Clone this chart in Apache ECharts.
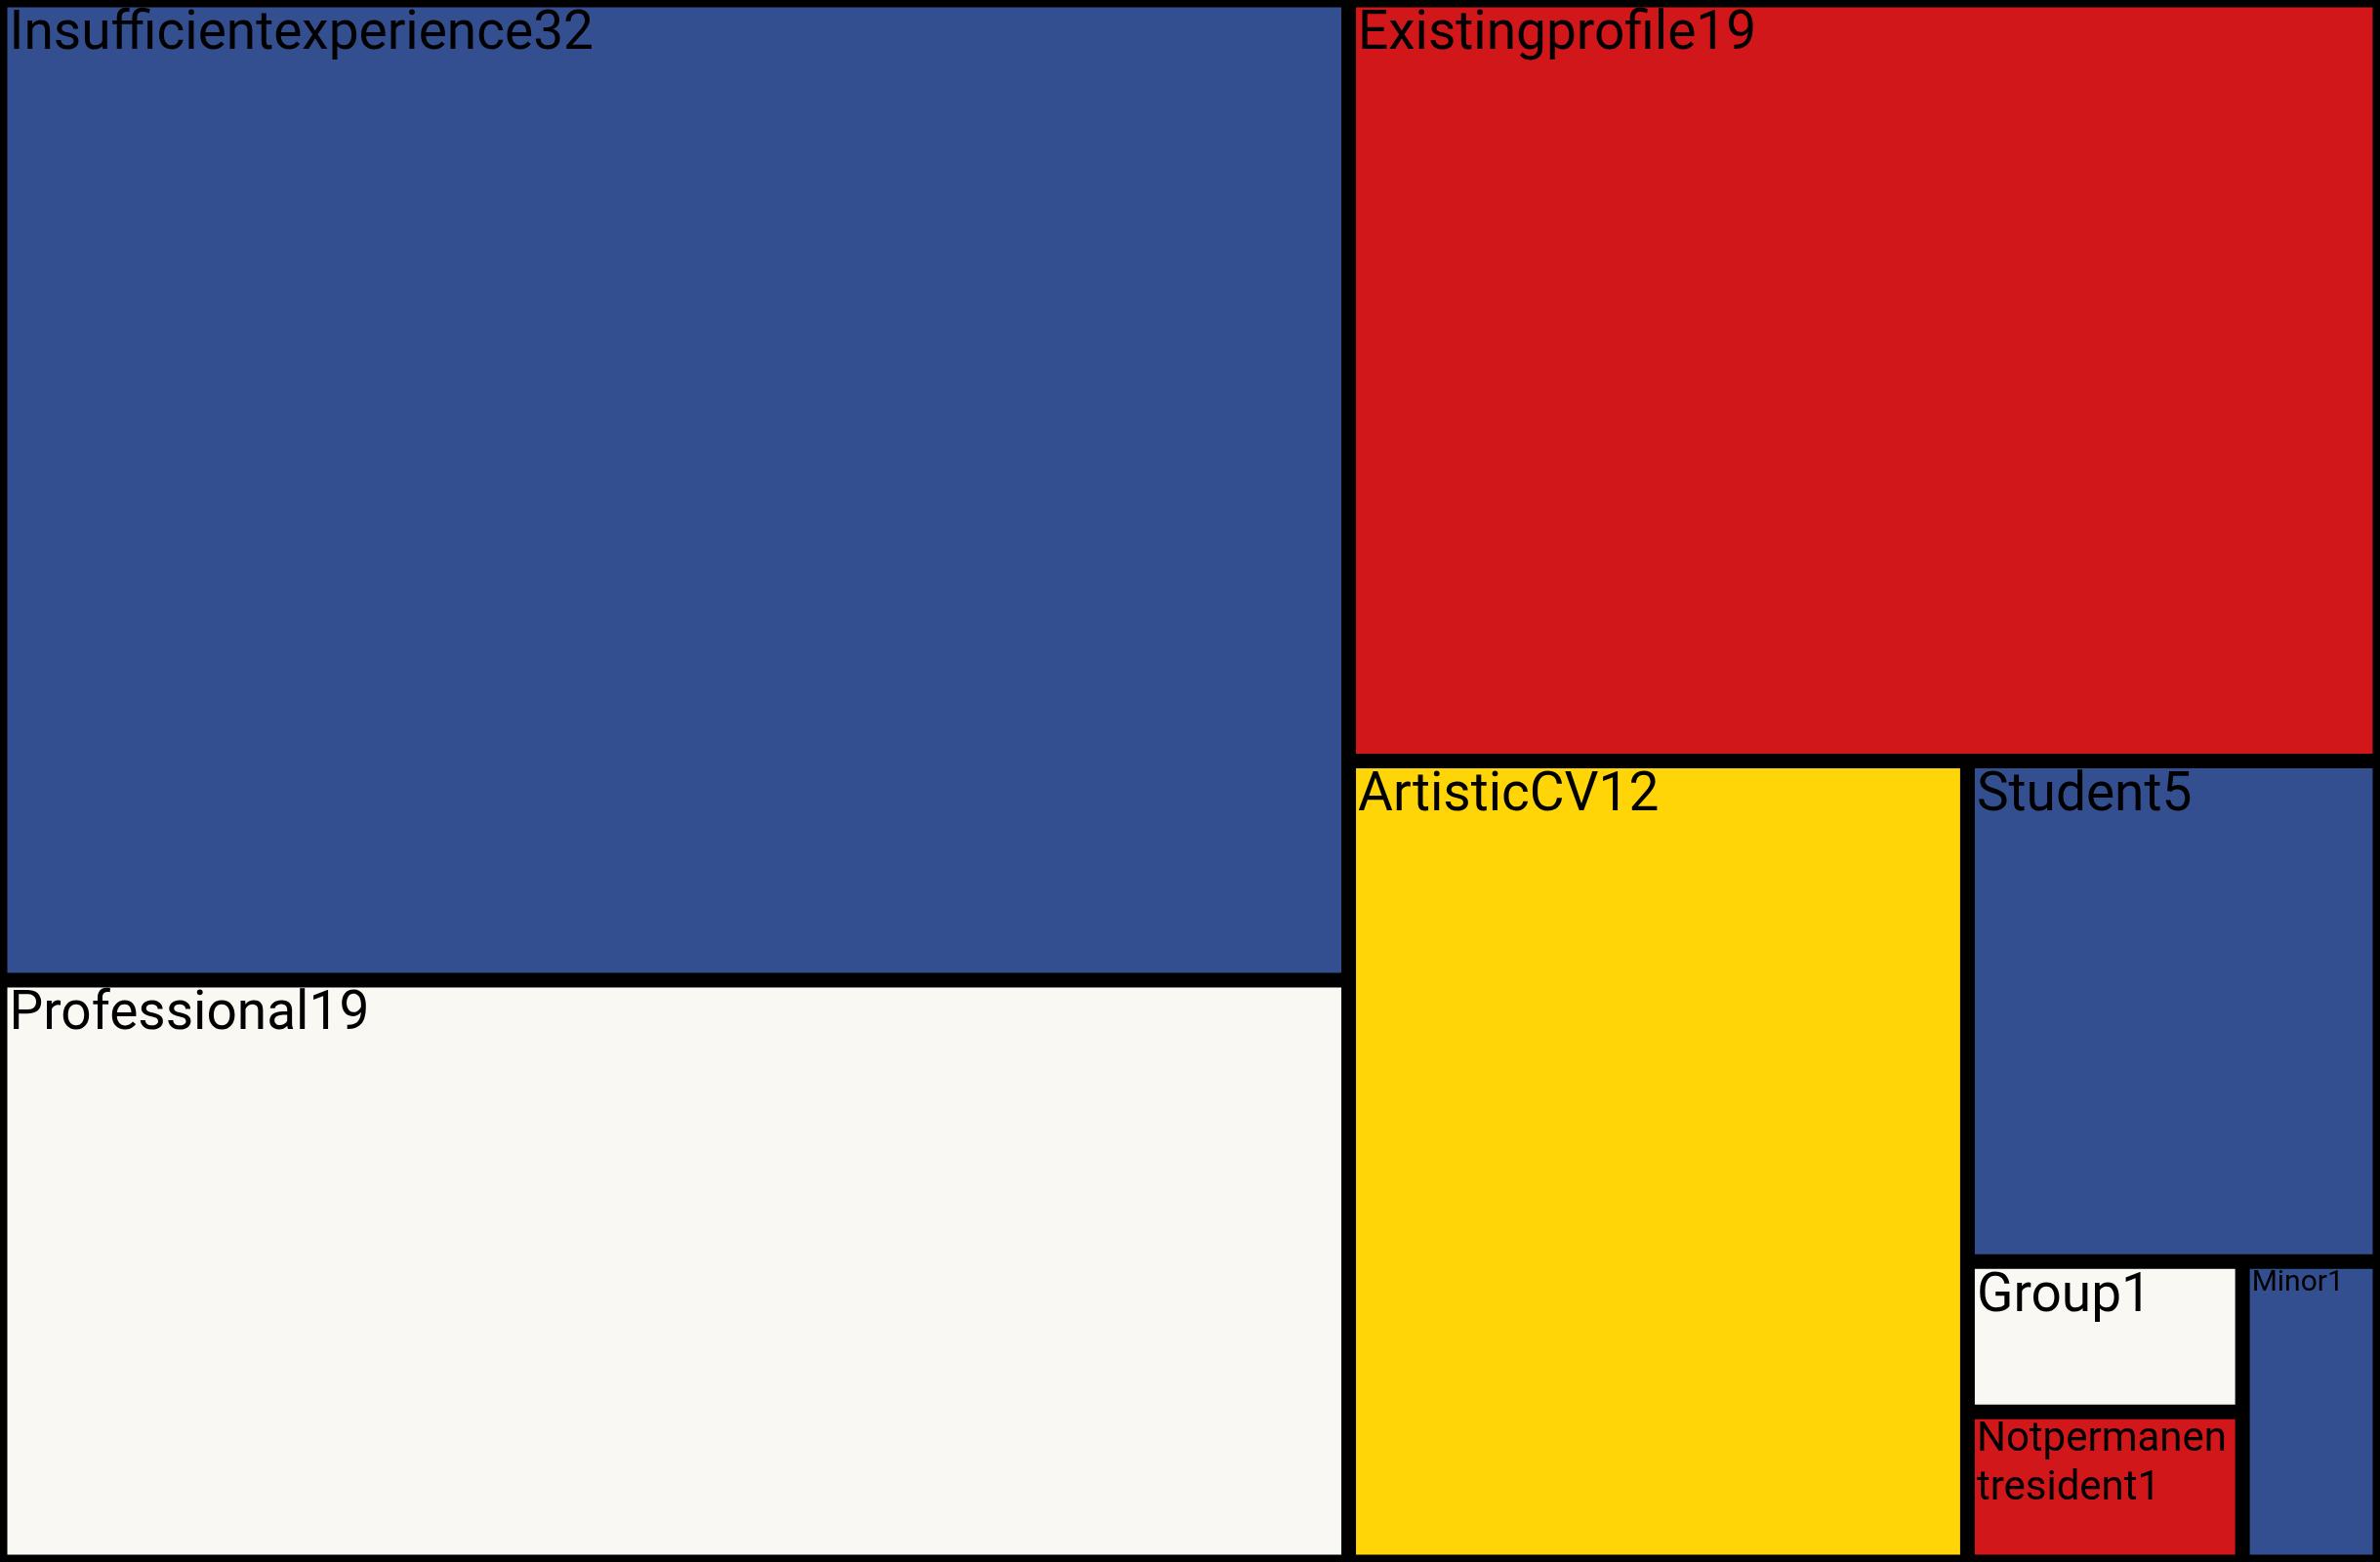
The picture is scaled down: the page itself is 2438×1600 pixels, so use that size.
<!DOCTYPE html>
<html>
<head>
<meta charset="utf-8">
<script src="https://cdn.jsdelivr.net/npm/echarts@6/dist/echarts.min.js"></script>
<style>
html,body{margin:0;padding:0;background:#000;}
#chart{width:2438px;height:1600px;}
</style>
</head>
<body>
<div id="chart"></div>
<script>
const names = ["Insufficientexperience","Professional","Existingprofile","ArtisticCV","Student","Group","Notpermanentresident","Minor"];
const values = [32,19,19,12,5,1,1,1];
const colors = ["#344f8f","#faf8f3","#d1171a","#ffd507","#344f8f","#faf8f3","#d1171a","#344f8f"];
const fontSizes = [55,55,55,55,55,55,42,30];
const labelDy = [-9,-9,-9,-9,-9,-9,-8,-8];

const data = names.map((n,i)=>({
  name:n,
  value:values[i],
  itemStyle:{color:colors[i]},
  label:{
    fontSize:fontSizes[i],
    lineHeight: Math.round(fontSizes[i]*1.2),
    position:[-3, labelDy[i]]
  }
}));

const chart = echarts.init(document.getElementById('chart'), null, {renderer:'canvas'});
chart.setOption({
  backgroundColor:'#000',
  series:[{
    type:'treemap',
    left:0, top:0, width:2438, height:1600,
    roam:false,
    nodeClick:false,
    breadcrumb:{show:false},
    sort:false,
    squareRatio:1.3,
    itemStyle:{borderColor:'#000', borderWidth:7.5, gapWidth:0},
    label:{
      show:true,
      formatter:'{b}{c}',
      color:'#000',
      fontFamily:'Roboto',
      overflow:'breakAll'
    },
    upperLabel:{show:false},
    levels:[{itemStyle:{borderWidth:0, gapWidth:0, borderColor:'#000'}}],
    data:data
  }]
});
</script>
</body>
</html>
